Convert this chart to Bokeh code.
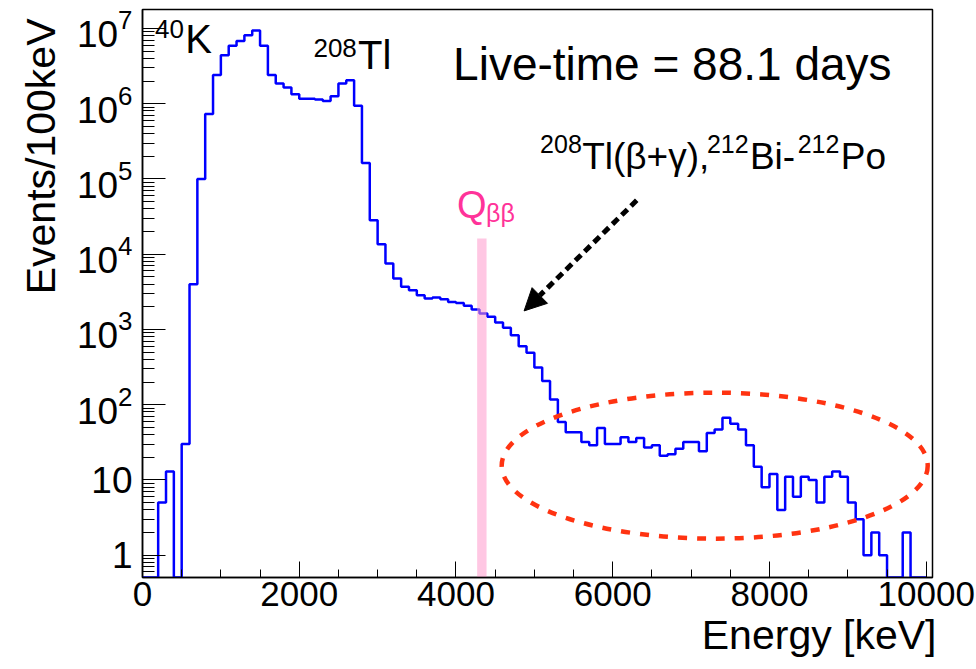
import numpy as np
from bokeh.plotting import figure
from bokeh.models import (Label, Arrow, NormalHead, LogTickFormatter,
                          SingleIntervalTicker, LogTicker, Title)
from bokeh.embed import file_html
from bokeh.resources import INLINE

# ---------------- data ----------------
bin_width = 100  # keV
counts = [
    0, 0, 5, 13, 0, 30, 4000, 1.0e5, 7.3e5, 2.4e6,
    4.4e6, 5.9e6, 6.8e6, 8.1e6, 9.4e6, 5.9e6, 2.4e6, 1.85e6, 1.64e6, 1.34e6,
    1.16e6, 1.16e6, 1.14e6, 1.09e6, 1.26e6, 1.85e6, 2.05e6, 9.4e5, 1.63e5, 2.83e4,
    1.36e4, 7500, 4750, 3680, 3320, 2850, 2580, 2660, 2520, 2320,
    2250, 2060, 1840, 1630, 1470, 1240, 1050, 840, 600, 489,
    312, 207, 117, 59, 43, 43, 32, 29, 49, 30,
    30, 37, 32, 36, 27, 29, 21, 22, 26, 32,
    32, 24, 42, 47, 67, 56, 47, 29, 15, 8,
    12, 4, 11, 6, 11, 10, 5, 11, 13, 11,
    5, 3, 1, 2, 1, 0, 0, 2, 0, 0,
]
x_ticks_interval = 2000
q_bb_left, q_bb_right, q_bb_top = 4270, 4390, 1.62e4

x_min, x_max = 0, 10080
y_min, y_max = 0.5055, 1.786e7

FONT = "Liberation Sans"
PX_PER_DECADE = 75.25

# ---------------- figure ----------------
p = figure(width=976, height=669, x_range=(x_min, x_max), y_range=(y_min, y_max),
           y_axis_type="log", output_backend="svg", toolbar_location=None,
           title=None, min_border_left=142, min_border_right=44,
           min_border_top=9, min_border_bottom=92)
p.xgrid.visible = False
p.ygrid.visible = False
p.outline_line_color = "black"
p.outline_line_width = 1.5
p.background_fill_color = "white"
p.border_fill_color = "white"

# histogram outline
edges = np.arange(0, len(counts) * bin_width + 1, bin_width)
vals = np.array(counts, dtype=float)
vals[vals <= 0] = y_min
xs = np.repeat(edges, 2)
ys = np.concatenate([[y_min], np.repeat(vals, 2), [y_min]])
p.line(xs, ys, line_color="#0000ff", line_width=2.5)

# Q_bb band
p.quad(left=[q_bb_left], right=[q_bb_right], bottom=[y_min], top=[q_bb_top],
       fill_color="#ff99cc", fill_alpha=0.55, line_color=None)

# ellipse annotation
p.ellipse(x=[7301], y=[15.5], width=[426], height=[146],
          width_units="screen", height_units="screen",
          fill_color=None, line_color="#ff3311", line_width=4.5, line_dash="9 10")

# arrow annotation
arrow = Arrow(end=NormalHead(size=22, fill_color="black", line_color="black", line_width=1),
              x_start=6306, y_start=5.2e4, x_end=4869, y_end=1764,
              line_width=5, line_dash="8 5", line_color="black")
p.add_layout(arrow)

# ---------------- axes ----------------
xa = p.xaxis[0]
xa.ticker = SingleIntervalTicker(interval=x_ticks_interval, num_minor_ticks=4)
xa.major_tick_in = 16
xa.major_tick_out = 0
xa.minor_tick_in = 8
xa.minor_tick_out = 0
xa.axis_line_width = 1.5
xa.major_label_text_font = FONT
xa.major_label_text_font_size = "35px"
xa.major_label_text_color = "black"
xa.major_label_standoff = 4

ya = p.yaxis[0]
ya.ticker = LogTicker(num_minor_ticks=10)
ya.formatter = LogTickFormatter(min_exponent=2)
ya.major_tick_in = 23
ya.major_tick_out = 0
ya.minor_tick_in = 12
ya.minor_tick_out = 0
ya.axis_line_width = 1.5
ya.major_label_text_font = FONT
ya.major_label_text_font_size = "37px"
ya.major_label_text_color = "black"
ya.major_label_standoff = 10

# axis titles (right/top aligned as in ROOT)
p.add_layout(Title(text="Energy [keV]", align="right", offset=-4, standoff=2,
                   text_font=FONT, text_font_size="41px", text_font_style="normal",
                   text_color="black"), "below")
p.add_layout(Title(text="Events/100keV", align="right", offset=9, standoff=20,
                   text_font=FONT, text_font_size="41px", text_font_style="normal",
                   text_color="black"), "left")


def lab(x, y, text, size, color="black", align="left"):
    # raise the text so that its baseline sits on the given position
    y_adj = y * 10 ** (0.36 * size / PX_PER_DECADE)
    p.add_layout(Label(x=x, y=y_adj, text=text, text_font=FONT,
                       text_font_size=f"{size}px", text_color=color,
                       text_align=align, text_baseline="alphabetic"))


# peak labels
lab(161, 7.28e6, "40", 26)
lab(545, 4.73e6, "K", 40)
lab(2181, 4.16e6, "208", 26)
lab(2751, 2.85e6, "Tl", 40)

# live time
lab(3963, 2.05e6, "Live-time = 88.1 days", 46)

# 208Tl(b+g), 212Bi-212Po
lab(5073, 2.21e5, "208", 25)
lab(5610, 1.307e5, "Tl(β+γ),", 37)
lab(7202, 2.21e5, "212", 25)
lab(7750, 1.307e5, "Bi-", 37)
lab(8360, 2.21e5, "212", 25)
lab(8910, 1.307e5, "Po", 37)

# Q_bb
lab(4014, 3.0e4, "Q", 38, color="#ff3399")
lab(4383, 2.66e4, "ββ", 25, color="#ff3399")

open("out.html", "w").write(file_html(p, INLINE))
